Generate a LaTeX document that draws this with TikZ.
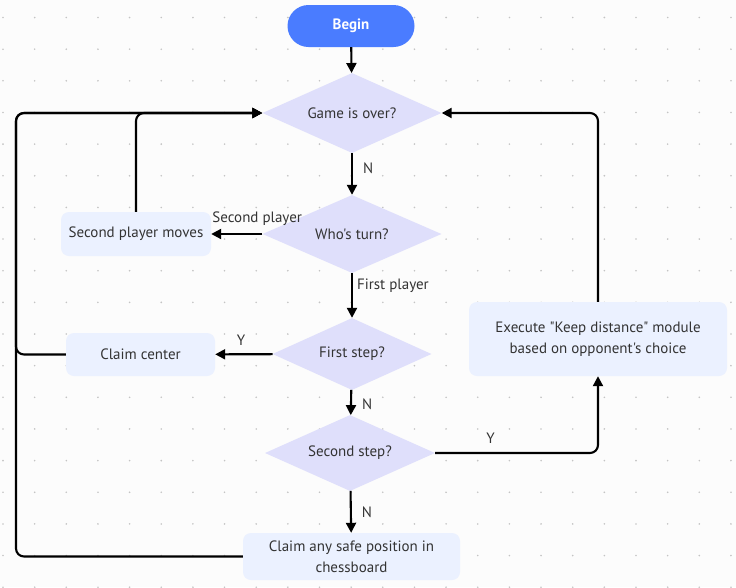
\documentclass[tikz,border=0pt]{standalone}
\usepackage{fontspec}
\setmainfont{PT Sans}[Ligatures=TeXOff]
\usetikzlibrary{shapes.geometric,arrows.meta}
\definecolor{bgc}{HTML}{FCFCFC}
\definecolor{dotc}{HTML}{C4C4C4}
\definecolor{beginc}{HTML}{4A7CFF}
\definecolor{diac}{HTML}{DFDFFB}
\definecolor{boxc}{HTML}{EBF1FF}
\definecolor{txtc}{HTML}{333333}
\tikzset{
  base/.style={font=\fontsize{15}{21.5}\selectfont, text=txtc, inner sep=0pt},
  pill/.style={base, rounded corners=21pt, fill=beginc, text=white, font=\fontsize{15}{18}\selectfont\bfseries, minimum width=127pt, minimum height=42pt},
  dia/.style={base, diamond, aspect=2.5, fill=diac},
  box/.style={base, rounded corners=8pt, fill=boxc, align=center},
  conn/.style={line width=2.1pt, black, rounded corners=8pt, -{Triangle[length=10pt,width=10pt]}},
  lab/.style={base}
}
\begin{document}
\begin{tikzpicture}[x=1pt,y=-1pt]
\fill[bgc] (0,0) rectangle (736,587);
\useasboundingbox (0,0) rectangle (736,587);
\foreach \i in {0,...,23}{\foreach \j in {0,...,18}{\fill[dotc] (3+31.65*\i,17.5+31.65*\j) circle (0.9pt);}}
\node[pill] (begin) at (351,26) {Begin};
\node[dia, minimum width=179pt, minimum height=80pt] (game) at (352,113) {Game is over?};
\node[dia, minimum width=179pt, minimum height=78pt] (turn) at (352,234) {Who's turn?};
\node[box, minimum width=150pt, minimum height=44pt] (spm) at (136,234) {Second player moves};
\node[dia, minimum width=159pt, minimum height=72pt] (first) at (352,354) {First step?};
\node[box, minimum width=149pt, minimum height=43pt] (cc) at (140.5,354.5) {Claim center};
\node[dia, minimum width=170pt, minimum height=76pt] (second) at (350,453) {Second step?};
\node[box, minimum width=217pt, minimum height=47pt] (safe) at (351.5,556.5) {Claim any safe position in\\chessboard};
\node[box, minimum width=258pt, minimum height=74pt] (exec) at (598,339) {Execute "Keep distance" module\\based on opponent's choice};
\coordinate (lx) at (16,0);
\draw[conn] (begin) -- (game);
\draw[conn] (game) -- node[lab, right=10pt, pos=0.35] {N} (turn);
\draw[conn] (turn) -- node[lab, above=7pt, pos=0.1] {Second player} (spm);
\draw[conn] (spm.north) |- (game.west);
\draw[conn] (turn) -- node[lab, right=4pt, pos=0.28] {First player} (first);
\draw[conn] (first) -- node[lab, above=8pt, pos=0.55] {Y} (cc);
\draw[conn] (first) -- node[lab, right=10pt, pos=0.55] {N} (second);
\draw[conn] (second) -- node[lab, right=10pt, pos=0.5] {N} (safe);
\draw[conn] (cc.west) -- (cc.west -| lx) |- (game.west);
\draw[conn] (safe.west) -- (safe.west -| lx) |- (game.west);
\draw[conn] (second.east) -| node[lab, above=8pt, pos=0.17] {Y} (exec.south);
\draw[conn] (exec.north) |- (game.east);
\end{tikzpicture}
\end{document}
